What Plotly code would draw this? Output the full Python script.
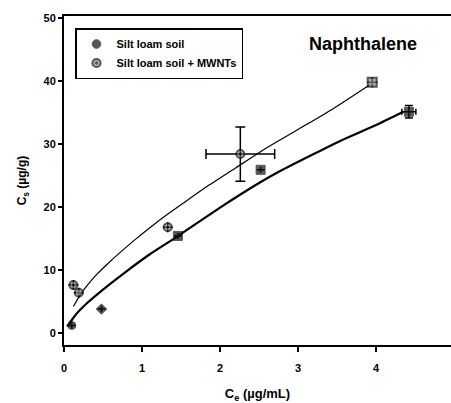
import plotly.graph_objects as go

# ---- data ----
soil_x = [0.10, 0.48, 1.46, 2.52, 4.42]
soil_y = [1.2, 3.8, 15.4, 25.9, 35.1]
soil_ex = [0, 0, 0, 0, 0.09]
soil_ey = [0, 0, 0, 0, 1.0]

mw_x = [0.12, 0.19, 1.33, 2.26, 3.95]
mw_y = [7.6, 6.4, 16.8, 28.4, 39.8]
mw_ex = [0, 0, 0, 0.44, 0]
mw_ey = [0, 0, 0, 4.3, 0]

fit_soil_x = [0.04, 0.15, 0.30, 0.50, 0.78, 1.10, 1.45, 2.00, 2.50, 2.77, 3.20, 3.56, 4.00, 4.35]
fit_soil_y = [1.0, 2.9, 4.8, 6.9, 9.6, 12.5, 15.3, 19.9, 23.8, 25.7, 28.4, 30.6, 33.0, 35.1]

fit_mw_x = [0.12, 0.20, 0.30, 0.42, 0.56, 0.72, 0.90, 1.10, 1.30, 1.55, 1.85, 2.20, 2.60, 3.00, 3.45, 3.92]
fit_mw_y = [4.2, 5.9, 7.6, 9.3, 11.0, 12.8, 14.7, 16.7, 18.6, 20.8, 23.4, 26.2, 29.4, 32.3, 35.6, 39.4]

x_ticks = [0, 1, 2, 3, 4]
y_ticks = [0, 10, 20, 30, 40, 50]

FONT = "Liberation Sans"
L, R_, T, B = 64, 451, 16, 345
PW, PH = R_ - L, B - T

fig = go.Figure()

fig.add_trace(go.Scatter(x=fit_soil_x, y=fit_soil_y, mode="lines",
                         line=dict(color="black", width=2.2, shape="spline", smoothing=0.6),
                         showlegend=False, hoverinfo="skip"))
fig.add_trace(go.Scatter(x=fit_mw_x, y=fit_mw_y, mode="lines",
                         line=dict(color="black", width=1.2, shape="spline", smoothing=0.6),
                         showlegend=False, hoverinfo="skip"))

fig.add_trace(go.Scatter(
    x=soil_x, y=soil_y, mode="markers", name="Silt loam soil",
    marker=dict(symbol=["circle", "diamond", "square", "square", "square"],
                size=[8, 8, 9, 9, 9], color="#111111",
                line=dict(color="#111111", width=1)),
    error_x=dict(type="data", array=soil_ex, color="black", thickness=1.5, width=3),
    error_y=dict(type="data", array=soil_ey, color="black", thickness=1.5, width=4),
))
fig.add_trace(go.Scatter(
    x=mw_x, y=mw_y, mode="markers", name="Silt loam soil + MWNTs",
    marker=dict(symbol=["circle-dot", "circle", "circle-dot", "circle-dot", "square"],
                size=[8, 8, 8, 8, 9], color="#888888",
                line=dict(color="#111111", width=2)),
    error_x=dict(type="data", array=mw_ex, color="black", thickness=1.5, width=5),
    error_y=dict(type="data", array=mw_ey, color="black", thickness=1.5, width=5),
))

fig.add_annotation(text="<b>Naphthalene</b>", x=(363 - L) / PW, y=(B - 44) / PH,
                   xref="paper", yref="paper", xanchor="center", yanchor="middle",
                   showarrow=False, font=dict(family=FONT, size=18, color="black"))

fig.update_layout(
    width=451, height=403,
    margin=dict(l=L, r=451 - R_, t=T, b=403 - B, autoexpand=False),
    paper_bgcolor="white", plot_bgcolor="white",
    font=dict(family=FONT, size=10, color="black"),
    legend=dict(x=(75 - L) / PW, y=(B - 28) / PH, xanchor="left", yanchor="top",
                bordercolor="black", borderwidth=1.5, bgcolor="white",
                font=dict(family=FONT, size=11, color="black", weight="bold"),
                tracegroupgap=0, itemwidth=30),
    xaxis=dict(range=[0, 4.96], tickvals=x_ticks, ticktext=[str(v) for v in x_ticks],
               showgrid=False, zeroline=False, showline=True, linecolor="black",
               linewidth=2, mirror=True, ticks="outside", ticklen=5, tickwidth=1.5,
               tickcolor="black", tickfont=dict(size=11, weight="bold"), automargin=False,
               ticklabelstandoff=7,
               title=dict(text="C<sub>e</sub> (µg/mL)", standoff=20,
                          font=dict(size=13, weight="bold"))),
    yaxis=dict(range=[-1.9, 50.3], tickvals=y_ticks, ticktext=[str(v) for v in y_ticks],
               showgrid=False, zeroline=False, showline=True, linecolor="black",
               linewidth=2, ticks="outside", ticklen=4, tickwidth=1.5,
               tickcolor="black", tickfont=dict(size=11, weight="bold"), automargin=False,
               title=dict(text="C<sub>s</sub> (µg/g)", standoff=14,
                          font=dict(size=12, weight="bold"))),
)

fig.write_html("out.html", config={"displayModeBar": False},
               post_script="document.body.style.margin='0';")
